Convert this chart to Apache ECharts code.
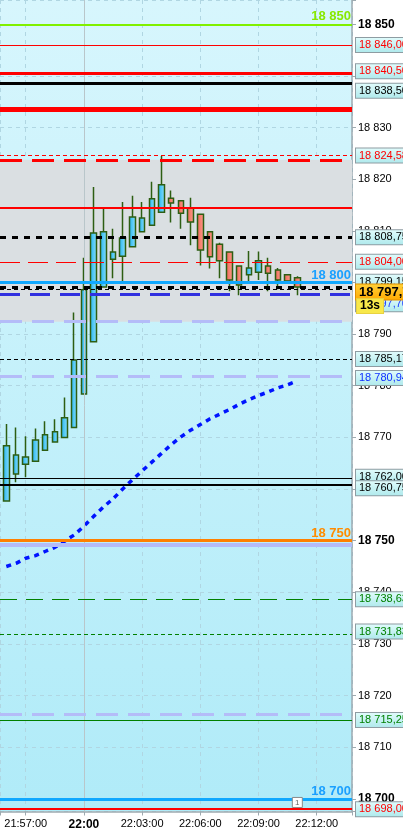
<!DOCTYPE html>
<html><head><meta charset="utf-8">
<script src="https://cdn.jsdelivr.net/npm/echarts@6/dist/echarts.min.js"></script>
<style>html,body{margin:0;padding:0;background:#fff;}#c{width:403px;height:831px;}</style>
</head><body><div id="c"></div>
<script>
// ---- data ----
const times = ['21:56:00','21:56:30','21:57:00','21:57:30','21:58:00','21:58:30','21:59:00','21:59:30',
  '22:00:00','22:00:30','22:01:00','22:01:30','22:02:00','22:02:30','22:03:00','22:03:30','22:04:00',
  '22:04:30','22:05:00','22:05:30','22:06:00','22:06:30','22:07:00','22:07:30','22:08:00','22:08:30',
  '22:09:00','22:09:30','22:10:00','22:10:30','22:11:00'];
const opens  = [18757.7,18762.9,18764.8,18765.4,18767.5,18769.1,18770.0,18771.9,18778.4,18788.5,18799.1,
  18804.5,18805.1,18806.9,18809.8,18811.1,18813.6,18816.3,18815.8,18814.4,18813.2,18809.8,18807.4,18805.9,
  18803.2,18801.5,18802.0,18803.2,18802.4,18801.5,18800.9];
const closes = [18768.4,18766.6,18766.2,18769.5,18770.5,18771.1,18773.8,18785.0,18798.6,18809.6,18809.8,
  18805.9,18808.6,18812.7,18812.5,18816.2,18818.9,18815.4,18813.4,18811.7,18806.3,18805.0,18804.2,18800.5,
  18799.5,18802.8,18804.2,18801.8,18800.5,18800.3,18799.1];
const lows   = [18757.7,18761.3,18762.3,18765.4,18767.5,18769.1,18770.0,18771.9,18778.4,18788.5,18799.1,
  18800.8,18800.2,18806.9,18809.8,18811.1,18813.6,18811.6,18810.4,18807.2,18803.3,18802.7,18800.8,18798.3,
  18797.5,18800.0,18800.5,18798.3,18798.7,18799.8,18797.5];
const highs  = [18772.6,18771.9,18770.2,18771.7,18773.1,18773.5,18777.7,18794.2,18804.8,18818.5,18814.4,
  18810.4,18815.6,18816.8,18815.6,18819.5,18824.5,18817.8,18815.8,18816.4,18813.2,18809.8,18807.7,18805.9,
  18803.2,18806.1,18806.0,18804.8,18802.8,18801.5,18801.2];
const maValues = [18745.0,18745.6,18746.6,18747.1,18747.9,18748.7,18749.9,18751.1,18752.8,18754.7,18756.5,
  18758.1,18760.0,18761.8,18763.5,18765.2,18766.9,18768.6,18770.1,18771.4,18772.5,18773.6,18774.5,18775.4,
  18776.4,18777.3,18778.1,18778.8,18779.6,18780.2,18780.94];
const xTickLabels = ['21:57:00','22:00','22:03:00','22:06:00','22:09:00','22:12:00'];
const levelValues = [18850, 18846.00, 18840.50, 18838.50, 18833.6, 18824.58, 18823.75, 18814.5, 18808.75,
  18804.00, 18800, 18799.15, 18798.7, 18797.70, 18792.4, 18785.17, 18781.9, 18762.00, 18760.75, 18750,
  18749.2, 18738.63, 18731.83, 18716.4, 18715.25, 18700, 18698.00];
const grayZone = [18823.75, 18792.4];
const currentPrice = 18797.75;
const countdown = '13s';
const eventTime = '22:11:00', eventValue = 18699.3, eventText = '1';

// ---- helpers ----
const toMin = s => { const p = s.split(':').map(Number); return p[0]*60 + p[1] + (p[2]||0)/60; };
const fmt = (v, d) => { const s = v.toFixed(d); const parts = s.split('.');
  const i2 = parts[0].replace(/\B(?=(\d{3})+(?!\d))/g, ' '); return parts[1] ? i2 + ',' + parts[1] : i2; };

// ---- styles (parallel to levelValues) ----
// [lineColor, width, dashType, labelKind, labelColor, labelOffsetY]
const levelStyles = [
  ['#80f000', 2, 'solid', 'in', '#88e800', 0],
  ['#ff0000', 1, 'solid', 'box', '#ff0000', 0],
  ['#ff0000', 3, 'solid', 'box', '#ff0000', -2],
  ['#000000', 3, 'solid', 'box', '#000000', 7],
  ['#ff0000', 5, 'solid', '', '', 0],
  ['#ff0000', 1, [4,3], 'box', '#ff0000', 0],
  ['#ff0000', 3, [22,10], '', '', 0],
  ['#ff0000', 2, 'solid', '', '', 0],
  ['#000000', 3, [6,6], 'box', '#000000', 0],
  ['#ff0000', 1, [20,8], 'box', '#ff0000', 0],
  ['#10a8ff', 3, 'solid', 'in', '#1aa0ff', 0],
  ['#000000', 3, [6,6], 'box', '#000000', -5],
  ['#000000', 1, [4,3], '', '', 0],
  ['#3030e0', 3, [20,10], 'box', '#2040ff', 10],
  ['#b4bcf8', 3, [22,10], '', '', 0],
  ['#000000', 1, [4,3], 'box', '#000000', 0],
  ['#b4bcf8', 3, [22,10], '', '', 0],
  ['#000000', 1, 'solid', 'box', '#000000', -2],
  ['#000000', 2, 'solid', 'box', '#000000', 3],
  ['#ff8000', 3, 'solid', 'in', '#ff8c00', 0],
  ['#b4bcf8', 4, 'solid', '', '', 0],
  ['#008000', 1, [17,9], 'box', '#008000', 0],
  ['#008000', 1, [4,3], 'box', '#008000', -3],
  ['#b4bcf8', 3, [22,10], '', '', 0],
  ['#008000', 1, 'solid', 'box', '#008000', 0],
  ['#10a8ff', 3, 'solid', 'in', '#1aa0ff', 0],
  ['#ff0000', 2, 'solid', 'box', '#ff0000', 0]
];

const FONT = 'Liberation Sans, Arial, sans-serif';
const CLEAR = 'rgba(0,0,0,0)';
const boxBg = new echarts.graphic.LinearGradient(0,0,0,1,[{offset:0,color:'#e2fcfc'},{offset:1,color:'#aee9ec'}]);
function boxLabel(text, color, dy) {
  return { show:true, position:'end', distance:4, formatter:text, color:color, fontSize:11, fontFamily:FONT,
    backgroundColor:boxBg, borderColor:'#8e9ca2', borderWidth:1, padding:[1,3,1,3], lineHeight:12,
    offset:[0,dy], width:60, overflow:'none' };
}
function inLabel(text, color) {
  return { show:true, position:'insideEndTop', distance:1, formatter:text, color:color, fontSize:13,
    fontWeight:'bold', fontFamily:FONT };
}

const xs = times.map(toMin);
const candleData = xs.map((x,i) => [x, opens[i], closes[i], lows[i], highs[i]]);
const maData = xs.map((x,i) => [x, maValues[i]]);

const markLines = levelValues.map((v,i) => {
  const st = levelStyles[i];
  const item = { yAxis: v, lineStyle: { color: st[0], width: st[1], type: st[2] }, label: { show:false } };
  if (st[3] === 'box') item.label = boxLabel(fmt(v,2), st[4], st[5]);
  else if (st[3] === 'in') item.label = inLabel(fmt(v,0), st[4]);
  return item;
});
// MA value box
markLines.push({ yAxis: maValues[maValues.length-1], lineStyle:{ width:1, color:CLEAR },
  label: boxLabel(fmt(maValues[maValues.length-1],2), '#1030ff', -3) });
// current price + countdown
markLines.push({ yAxis: currentPrice, lineStyle:{ width:1, color:CLEAR },
  label: { show:true, position:'end', distance:4, formatter: fmt(currentPrice,2), color:'#000', fontSize:13,
    fontWeight:'bold', fontFamily:FONT, padding:[1,3,1,3], lineHeight:13, offset:[0,-2],
    backgroundColor:new echarts.graphic.LinearGradient(0,0,0,1,[{offset:0,color:'#ffd23a'},{offset:1,color:'#ffa800'}]),
    borderColor:'#e09000', borderWidth:1 } });
markLines.push({ yAxis: currentPrice, lineStyle:{ width:1, color:CLEAR },
  label: { show:true, position:'end', distance:5, formatter: countdown, color:'#000', fontSize:12,
    fontWeight:'bold', fontFamily:FONT, padding:[1,3,1,3], lineHeight:12, offset:[0,12],
    backgroundColor:'#f8e84a', borderColor:'#e8d040', borderWidth:1 } });
// 22:00 session line
markLines.unshift({ xAxis: toMin('22:00:00'), lineStyle:{ color:'#b9c6ca', width:1, type:'solid' }, label:{show:false} });

const xMin = 1315.675, xMax = 1333.817;
const yMin = 18697.55, yMax = 18854.7;

const chart = echarts.init(document.getElementById('c'), null, { renderer:'canvas' });
chart.setOption({
  animation:false,
  textStyle:{ fontFamily: FONT },
  grid:{ left:0, top:0, right:51, bottom:19.5, show:true, z:-2, borderWidth:0, containLabel:false,
    outerBoundsMode:'none',
    backgroundColor:new echarts.graphic.LinearGradient(0,0,0,1,[{offset:0,color:'#d7f6fd'},{offset:1,color:'#b0ebf8'}]) },
  xAxis:{ type:'value', min:xMin, max:xMax, minInterval:3, maxInterval:3, splitNumber:6,
    axisLine:{ show:true, onZero:false, lineStyle:{ color:'#9eaab0', width:1.5 } },
    axisTick:{ show:true, length:4, lineStyle:{ color:'#9eaab0' } },
    axisLabel:{ margin:7, color:'#000', fontSize:11, fontFamily:FONT, hideOverlap:false,
      formatter: v => { const k = Math.round((v - toMin('21:57:00'))/3);
        if (Math.abs(v - toMin('21:57:00') - k*3) > 1e-6 || k < 0 || k >= xTickLabels.length) return '';
        const t = xTickLabels[k]; return t.length === 5 ? '{b|' + t + '}' : t; },
      rich:{ b:{ fontWeight:'bold', fontSize:12, fontFamily:FONT, color:'#000' } } },
    splitLine:{ show:true, lineStyle:{ color:'#b0d6e2', type:[4,4] } } },
  yAxis:{ type:'value', position:'right', min:yMin, max:yMax, minInterval:10, maxInterval:10, splitNumber:15,
    axisLine:{ show:true, onZero:false, lineStyle:{ color:'#9eaab0', width:1.5 } },
    axisTick:{ show:true, length:4, lineStyle:{ color:'#9eaab0' } },
    axisLabel:{ margin:6, color:'#000', fontSize:11, fontFamily:FONT,
      formatter: v => { if (Math.abs(v/10 - Math.round(v/10)) > 1e-6) return '';
        const s = fmt(v,0); return (Math.round(v) % 50 === 0) ? '{b|' + s + '}' : s; },
      rich:{ b:{ fontWeight:'bold', fontSize:12, fontFamily:FONT, color:'#000' } } },
    splitLine:{ show:true, lineStyle:{ color:'#b0d6e2', type:[4,4] } } },
  series:[
    { type:'line', z:-1, data:[], silent:true,
      markArea:{ silent:true, itemStyle:{ color:'#dadfe2' },
        data:[[{ yAxis: grayZone[0] }, { yAxis: grayZone[1] }]] } },
    { type:'candlestick', z:3, data:candleData, encode:{ x:0, y:[1,2,3,4] }, barWidth:6,
      itemStyle:{
        color:new echarts.graphic.LinearGradient(0,0,1,0,[{offset:0,color:'#20b2ee'},{offset:1,color:'#8ee2ff'}]),
        color0:new echarts.graphic.LinearGradient(0,0,1,0,[{offset:0,color:'#ee6656'},{offset:1,color:'#ff9c8c'}]),
        borderColor:'#2d5e12', borderColor0:'#2d5e12', borderWidth:1.5 },
      markLine:{ silent:true, symbol:['none','none'], animation:false, data:markLines },
      markPoint:{ silent:true, data:[{ coord:[toMin(eventTime), eventValue], symbol:'rect', symbolSize:[10,10],
        itemStyle:{ color:'#ffffff', borderColor:'#8a8a8a', borderWidth:1 },
        label:{ show:true, formatter:eventText, color:'#666', fontSize:8, fontFamily:FONT } }] } },
    { type:'line', z:4, data:maData, showSymbol:false, symbol:'none', silent:true,
      lineStyle:{ color:'#0014ff', width:3.5, type:[5,5] } }
  ]
});
</script></body></html>
